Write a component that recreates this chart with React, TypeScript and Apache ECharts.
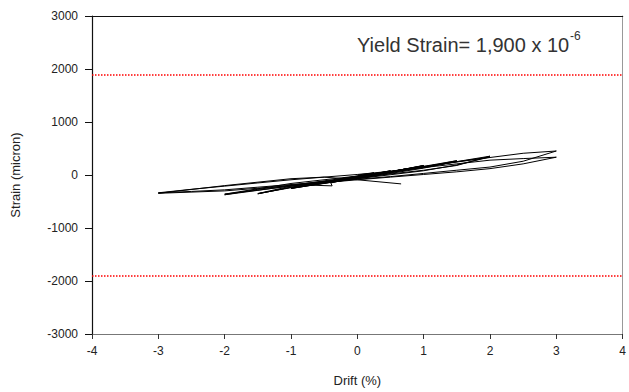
import React, { useEffect, useRef } from "react";
import * as echarts from "echarts";

const xTicks = [-4, -3, -2, -1, 0, 1, 2, 3, 4];
const yTicks = [-3000, -2000, -1000, 0, 1000, 2000, 3000];
const yieldStrain = 1900;

const drift = [
  0, 0.25, 0, -0.25, 0, 0.25, 0, -0.25, 0,
  0.5, 0, -0.5, 0, 0.5, 0, -0.5, 0,
  0.75, 0.4, 0, -0.4, -0.38, -0.75, 0,
  1, 0.5, 0, -0.5, -1, -0.5, 0, 1, 0.5, 0, -1, -0.5, 0,
  1.5, 1, 0.5, 0, -0.5, -1, -1.5, -1, -0.5, 0, 0.5, 1, 1.5, 1, 0, -1, -1.5, -1, 0, 1,
  2, 1.5, 1, 0.5, 0, -0.5, -1, -1.5, -2, -1.5, -1, -0.5, 0, 0.5, 1, 1.5, 2, 1.5, 1, 0, -1, -2, -1.5, -1, 0, 1,
  2, 2.5, 3, 2.5, 2, 1.5, 1, 0.5, 0, -0.5, -1, -1.5, -2, -2.5, -3,
  -2.5, -2, -1.5, -1, -0.5, 0, 0.5, 1, 1.5, 2, 2.5, 3,
  2.5, 2, 1.5, 1, 0.5, 0, -1, -2, -3,
  -2, -1, -0.5, 0, 0.66,
];

const strain = [
  0, 40, -20, -70, -30, 35, -25, -75, -30,
  80, -40, -130, -50, 75, -45, -140, -55,
  120, 40, -40, -150, -205, -190, -60,
  180, 60, -50, -140, -250, -160, -60, 175, 60, -55, -255, -150, -50,
  270, 150, 40, -60, -140, -230, -355, -230, -130, -40, 50, 140, 260, 130, -70, -240, -350, -210, -40, 150,
  355, 180, 90, 20, -60, -120, -190, -270, -373, -290, -200, -110, -30, 60, 150, 250, 340, 190, 80, -70, -210, -360, -260, -160, -20, 160,
  330, 410, 453, 260, 150, 90, 30, -30, -80, -130, -180, -230, -280, -310, -336,
  -270, -210, -150, -90, -40, 10, 70, 140, 210, 280, 310, 336,
  210, 120, 60, 10, -40, -90, -200, -300, -345,
  -200, -70, -40, -90, -168,
];

const FONT = "'Liberation Sans', Arial, sans-serif";

export default function App() {
  const ref = useRef<HTMLDivElement>(null);
  useEffect(() => {
    if (!ref.current) return;
    const chart = echarts.init(ref.current, null, { renderer: "svg" });
    const data = drift.map((d, i) => [d, strain[i]]);
    chart.setOption({
      animation: false,
      backgroundColor: "#fff",
      grid: { left: 92, right: 1, top: 16, bottom: 54, containLabel: false },
      xAxis: [
        {
          type: "value",
          min: xTicks[0],
          max: xTicks[xTicks.length - 1],
          interval: 1,
          name: "Drift (%)",
          nameLocation: "middle",
          nameGap: 40,
          nameTextStyle: { fontFamily: FONT, fontSize: 13, color: "#222" },
          axisLine: { show: true, onZero: false, lineStyle: { color: "#777", width: 1 } },
          axisTick: { show: true, length: 5, lineStyle: { color: "#333" } },
          axisLabel: { fontFamily: FONT, fontSize: 12, color: "#222", margin: 11, formatter: (v: number) => String(v) },
          splitLine: { show: false },
        },
        {
          type: "value",
          position: "top",
          min: xTicks[0],
          max: xTicks[xTicks.length - 1],
          axisLine: { show: true, onZero: false, lineStyle: { color: "#111", width: 1.2 } },
          axisTick: { show: false },
          axisLabel: { show: false },
          splitLine: { show: false },
        },
      ],
      yAxis: [
        {
          type: "value",
          min: yTicks[0],
          max: yTicks[yTicks.length - 1],
          interval: 1000,
          name: "Strain (micron)",
          nameLocation: "middle",
          nameGap: 70,
          nameTextStyle: { fontFamily: FONT, fontSize: 13, color: "#222" },
          axisLine: { show: true, onZero: false, lineStyle: { color: "#111", width: 1.2 } },
          axisTick: { show: true, length: 7, lineStyle: { color: "#111" } },
          axisLabel: { fontFamily: FONT, fontSize: 12, color: "#222", margin: 14, formatter: (v: number) => String(v) },
          splitLine: { show: false },
        },
        {
          type: "value",
          position: "right",
          min: yTicks[0],
          max: yTicks[yTicks.length - 1],
          axisLine: { show: true, onZero: false, lineStyle: { color: "#999", width: 1 } },
          axisTick: { show: false },
          axisLabel: { show: false },
          splitLine: { show: false },
        },
      ],
      series: [
        {
          type: "line",
          data,
          showSymbol: false,
          symbol: "none",
          lineStyle: { color: "#000", width: 1 },
          silent: true,
          markLine: {
            silent: true,
            symbol: "none",
            label: { show: false },
            lineStyle: { color: "#ff0000", type: "dotted", width: 1.5 },
            data: [{ yAxis: yieldStrain }, { yAxis: -yieldStrain }],
          },
        },
      ],
      graphic: [
        {
          type: "text",
          left: 357,
          top: 35,
          style: {
            text: "Yield Strain= 1,900 x 10",
            fontFamily: FONT,
            fontSize: 20,
            fill: "#333",
          },
        },
        {
          type: "text",
          left: 570,
          top: 30,
          style: {
            text: "-6",
            fontFamily: FONT,
            fontSize: 12,
            fill: "#333",
          },
        },
      ],
    });
    return () => chart.dispose();
  }, []);
  return <div ref={ref} style={{ width: 629, height: 392, position: "absolute", left: 0, top: 0 }} />;
}
